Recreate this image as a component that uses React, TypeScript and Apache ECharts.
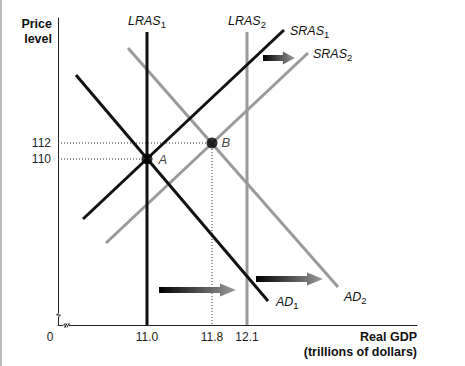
import React, { useEffect, useRef } from "react";
import * as echarts from "echarts";

// Price level (vertical axis, real units)
const priceTicks = [110, 112];
const priceMin = 89.25;
const priceMax = 127.625;

// Horizontal axis: schematic (non-proportional) positions of real GDP marks
const gdpMin = 0;
const gdpMax = 359;
const gdpTickPos = [0, 89, 154, 189];
const gdpTickLabels = ["0", "11.0", "11.8", "12.1"];

// Curves [gdpPos, price]
const ad1 = [[18, 120.5], [210, 92.25]];
const ad2 = [[70, 123.875], [280, 94]];
const sras1 = [[25, 102.5], [226, 126.125]];
const sras2 = [[48, 99.5], [250, 123.25]];
const lras1 = [[89, 89.25], [89, 125.875]];
const lras2 = [[189, 89.25], [189, 125.875]];

// Equilibria
const eqNames = ["A", "B"];
const eqPoints = [[89, 110], [154, 112]];

// Shift arrows [fromPos, toPos, price]
const arrows = [
  [101, 178, 93.625],
  [198, 265, 95],
  [205, 237, 122.625],
];

const FONT = '"Liberation Sans", Arial, Helvetica, sans-serif';
const BLACK = "#111";
const GRAY = "#9a9a9a";

const rich = {
  m: { fontFamily: FONT, fontStyle: "italic", fontSize: 12.5, color: "#111" },
  s: { fontFamily: FONT, fontSize: 9.5, color: "#111", padding: [7, 0, 0, 0] },
};

function lbl(name: string, sub: string, position: any, distance: number, offset?: number[]) {
  return {
    show: true,
    position,
    distance,
    offset: offset || [0, 0],
    formatter: `{m|${name}}{s|${sub}}`,
    rich,
  };
}

function lineSeries(
  data: number[][],
  color: string,
  labelIdx: number,
  label: any,
  z = 3
) {
  return {
    type: "line",
    data: data.map((d, i) =>
      i === labelIdx ? { value: d, label } : { value: d }
    ),
    symbol: "circle",
    symbolSize: 0,
    showSymbol: true,
    itemStyle: { color: "transparent" },
    lineStyle: { color, width: 3, cap: "butt" },
    z,
    silent: true,
  };
}

function dotted(data: number[][]) {
  return {
    type: "line",
    data,
    symbol: "none",
    lineStyle: { color: "#333", width: 1, type: [1, 2] },
    z: 1,
    silent: true,
  };
}

export default function App() {
  const ref = useRef<HTMLDivElement>(null);

  useEffect(() => {
    const chart = echarts.init(ref.current!, null, { renderer: "svg" });
    const eqY1 = priceTicks[0];
    const eqY2 = priceTicks[1];
    const option: any = {
      animation: false,
      backgroundColor: "#fff",
      grid: { left: 58, top: 18, width: 359, height: 307 },
      xAxis: {
        type: "value",
        min: gdpMin,
        max: gdpMax,
        axisLine: { show: true, lineStyle: { color: "#222", width: 1 } },
        axisTick: { show: false },
        splitLine: { show: false },
        axisLabel: {
          customValues: gdpTickPos,
          margin: 6,
          color: "#222",
          fontSize: 12,
          fontFamily: FONT,
          formatter: (v: number) => {
            const i = gdpTickPos.indexOf(v);
            if (i < 0) return "";
            return i === 0 ? `{z|${gdpTickLabels[i]}}` : gdpTickLabels[i];
          },
          rich: {
            z: { fontSize: 12, fontFamily: FONT, color: "#222", padding: [0, 16, 0, 0] },
          },
        },
      },
      yAxis: {
        type: "value",
        min: priceMin,
        max: priceMax,
        axisLine: { show: true, lineStyle: { color: "#222", width: 1 } },
        axisTick: { show: false },
        splitLine: { show: false },
        axisLabel: {
          customValues: priceTicks,
          margin: 7,
          color: "#222",
          fontSize: 12,
          fontFamily: FONT,
          formatter: (v: number) => String(v),
        },
      },
      series: [
        dotted([[gdpMin, eqY2], eqPoints[1]]),
        dotted([[gdpMin, eqY1], eqPoints[0]]),
        dotted([eqPoints[1], [eqPoints[1][0], priceMin]]),
        lineSeries(lras2, GRAY, 1, lbl("LRAS", "2", "top", 3), 2),
        lineSeries(ad2, GRAY, 1, lbl("AD", "2", "right", 6, [0, 10]), 2),
        lineSeries(sras2, GRAY, 1, lbl("SRAS", "2", "right", 5, [0, 1]), 2),
        lineSeries(lras1, BLACK, 1, lbl("LRAS", "1", "top", 3), 3),
        lineSeries(ad1, BLACK, 1, lbl("AD", "1", "right", 8, [0, 1]), 3),
        lineSeries(sras1, BLACK, 1, lbl("SRAS", "1", "right", 6, [0, 1]), 3),
        {
          type: "custom",
          data: arrows,
          z: 4,
          silent: true,
          renderItem: (params: any, api: any) => {
            const x0 = api.value(0);
            const x1 = api.value(1);
            const y = api.value(2);
            const p0 = api.coord([x0, y]);
            const p1 = api.coord([x1, y]);
            const len = p1[0] - p0[0];
            const head = Math.min(16, len * 0.38);
            const bh = 3;
            const hh = 6.5;
            const yc = p0[1];
            const hx = p1[0] - head;
            return {
              type: "polygon",
              shape: {
                points: [
                  [p0[0], yc - bh],
                  [hx, yc - bh],
                  [hx, yc - hh],
                  [p1[0], yc],
                  [hx, yc + hh],
                  [hx, yc + bh],
                  [p0[0], yc + bh],
                ],
              },
              style: {
                fill: new echarts.graphic.LinearGradient(0, 0, 1, 0, [
                  { offset: 0, color: "#000" },
                  { offset: 1, color: "#9a9a9a" },
                ]),
              },
            };
          },
        },
        {
          type: "scatter",
          data: eqPoints.map((p, i) => ({
            value: p,
            label: {
              show: true,
              position: "right",
              distance: i === 0 ? 6 : 4,
              offset: i === 0 ? [0, 0] : [0, -1],
              formatter: eqNames[i],
              fontFamily: FONT,
              fontStyle: "italic",
              fontSize: 13,
              color: "#111",
            },
          })),
          symbol: "circle",
          symbolSize: 11,
          itemStyle: { color: "#000" },
          z: 5,
          silent: true,
        },
      ],
      graphic: [
        { type: "rect", shape: { x: 0, y: 0, width: 2, height: 366 }, style: { fill: "#bdbdbd" }, z: 10 },
        {
          type: "text",
          x: 52,
          y: 16,
          style: {
            text: "Price\nlevel",
            align: "right",
            verticalAlign: "top",
            font: `bold 12.5px ${FONT}`,
            lineHeight: 15,
            fill: "#111",
          },
          z: 10,
        },
        {
          type: "text",
          x: 417,
          y: 329,
          style: {
            text: "Real GDP\n(trillions of dollars)",
            align: "right",
            verticalAlign: "top",
            font: `bold 12.5px ${FONT}`,
            lineHeight: 15,
            fill: "#111",
          },
          z: 10,
        },
        // axis break marks
        { type: "rect", shape: { x: 55, y: 312, width: 6, height: 6 }, style: { fill: "#fff" }, z: 10 },
        { type: "rect", shape: { x: 62, y: 322, width: 9, height: 6 }, style: { fill: "#fff" }, z: 10 },
        {
          type: "polyline",
          shape: { points: [[58.5, 311], [58.5, 313], [56.5, 315], [60.5, 315], [58.5, 317], [58.5, 319]] },
          style: { stroke: "#222", lineWidth: 1, fill: null },
          z: 11,
        },
        {
          type: "polyline",
          shape: { points: [[61, 325.5], [63, 325.5], [65, 323.5], [65, 327.5], [67, 323.5]] },
          style: { stroke: "#222", lineWidth: 1, fill: null },
          z: 11,
        },
        {
          type: "polyline",
          shape: { points: [[67, 327.5], [69, 323.5], [69, 325.5], [72, 325.5]] },
          style: { stroke: "#222", lineWidth: 1, fill: null },
          z: 11,
        },
      ],
    };
    chart.setOption(option);
    return () => chart.dispose();
  }, []);

  return (
    <div
      ref={ref}
      style={{ position: "fixed", left: 0, top: 0, width: 465, height: 366 }}
    />
  );
}
